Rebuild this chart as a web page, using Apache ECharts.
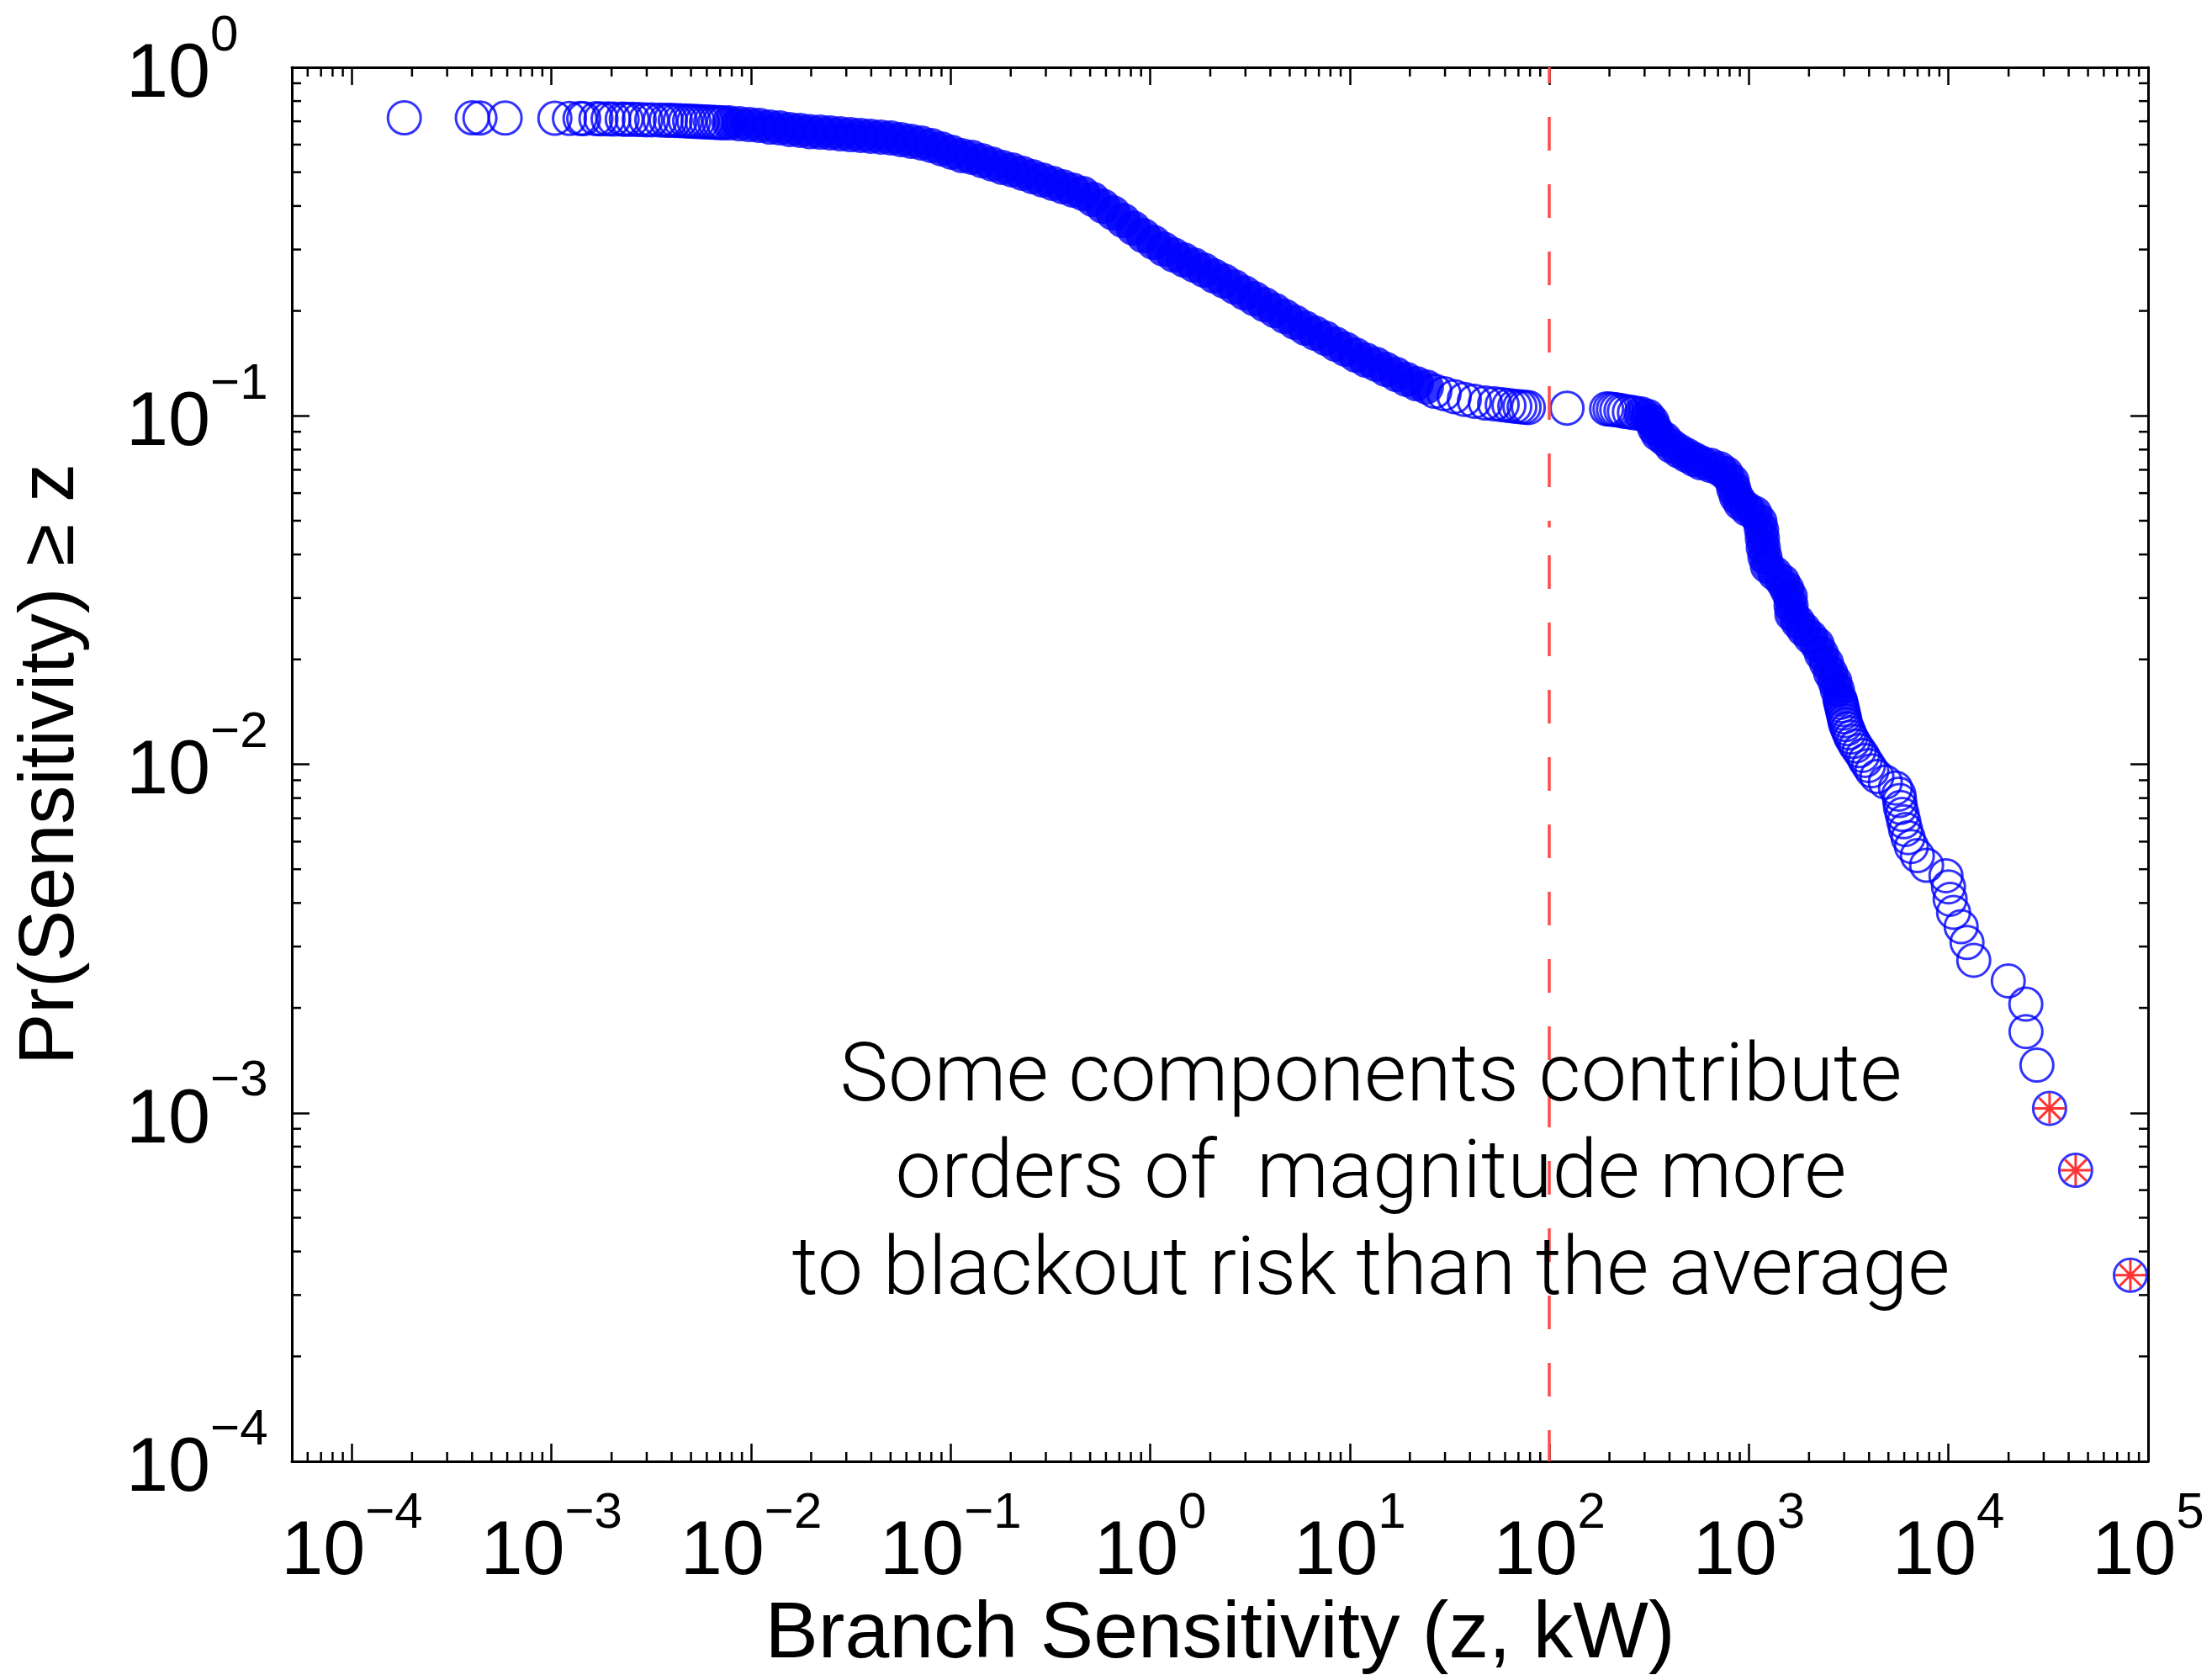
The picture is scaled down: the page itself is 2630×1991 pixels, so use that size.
<!DOCTYPE html>
<html>
<head>
<meta charset="utf-8">
<script src="https://cdn.jsdelivr.net/npm/echarts@6/dist/echarts.min.js"></script>
<style>html,body{margin:0;padding:0;background:#fff}#c{width:2630px;height:1991px}</style>
</head>
<body>
<div id="c"></div>
<script>
// ---------------- data ----------------
// Axis ranges
const X_MIN = 5e-5, X_MAX = 1e5;
const Y_MIN = 1e-4, Y_MAX = 1;
// Reference line (average sensitivity)
const REF_X = 100;

// Sparse head of the distribution (individual rings visible)
const headX = [1.83e-4, 4.01e-4, 4.38e-4, 5.86e-4, 1.04e-3, 1.23e-3, 1.39e-3, 1.45e-3, 1.67e-3, 1.77e-3, 1.92e-3, 2.05e-3, 2.26e-3, 2.37e-3, 2.54e-3, 2.75e-3, 2.97e-3, 3.18e-3, 3.50e-3, 3.75e-3, 3.94e-3, 4.17e-3, 4.42e-3, 4.69e-3, 4.92e-3, 5.17e-3, 5.42e-3, 5.69e-3, 5.98e-3, 6.27e-3, 6.59e-3, 6.92e-3, 7.26e-3];
const headY = [0.716, 0.716, 0.715, 0.715, 0.714, 0.713, 0.713, 0.712, 0.712, 0.711, 0.711, 0.710, 0.710, 0.709, 0.709, 0.708, 0.707, 0.707, 0.706, 0.705, 0.705, 0.704, 0.703, 0.702, 0.701, 0.700, 0.699, 0.698, 0.697, 0.696, 0.695, 0.694, 0.693];

// Saturated band (markers overlap into a solid band)
const band1X = [0.00777, 0.00873, 0.00981, 0.0110, 0.0124, 0.0139, 0.0156, 0.0176, 0.0197, 0.0222, 0.0249, 0.0280, 0.0315, 0.0354, 0.0397, 0.0447, 0.0502, 0.0564, 0.0633, 0.0712, 0.0800, 0.0899, 0.101, 0.1135, 0.1275, 0.1433, 0.161, 0.1809, 0.2032, 0.2284, 0.2566, 0.2883, 0.324, 0.364, 0.409, 0.4596, 0.5165, 0.5803, 0.652, 0.7328, 0.8234, 0.9252, 1.04, 1.168, 1.313, 1.475, 1.657, 1.862, 2.093, 2.351, 2.642, 2.969, 3.336, 3.748, 4.212, 4.732, 5.317, 5.975, 6.714, 7.544, 8.479, 9.526, 10.70, 12.03, 13.52, 15.18, 17.07, 19.18, 21.54, 24.21];
const band1Y = [0.6929, 0.6891, 0.6853, 0.6815, 0.6740, 0.6703, 0.6629, 0.6592, 0.6537, 0.6519, 0.6483, 0.6447, 0.6411, 0.6376, 0.6341, 0.6306, 0.6271, 0.6202, 0.6133, 0.6066, 0.5966, 0.5834, 0.5706, 0.5580, 0.5518, 0.5397, 0.5278, 0.5162, 0.5077, 0.4965, 0.4856, 0.4749, 0.4645, 0.4543, 0.4443, 0.4345, 0.4178, 0.3996, 0.3822, 0.3635, 0.3458, 0.3289, 0.3146, 0.3009, 0.2894, 0.2800, 0.2708, 0.2619, 0.2519, 0.2436, 0.2344, 0.2254, 0.2168, 0.2085, 0.2006, 0.1929, 0.1855, 0.1785, 0.1726, 0.1670, 0.1606, 0.1553, 0.1494, 0.1445, 0.1406, 0.1359, 0.1315, 0.1272, 0.1237, 0.1210];

// Plateau around 10^2 (individual rings visible)
const plateauX = [26.68, 29.69, 33.36, 37.48, 42.12, 47.78, 53.17, 58.03, 62.73, 67.14, 71.17, 74.72, 78.44, 122.6, 193.6, 201.3, 209.3, 217.6, 228.4, 237.4, 251.7, 266.8];
const plateauY = [0.1176, 0.1157, 0.1135, 0.1115, 0.1101, 0.1088, 0.1082, 0.1076, 0.1070, 0.1065, 0.1062, 0.1059, 0.1056, 0.1052, 0.1047, 0.1045, 0.1043, 0.1040, 0.1036, 0.1030, 0.1026, 0.1020];

// Second saturated band (steep fall)
const band2X = [288.3, 311.7, 327.2, 336.9, 350.2, 378.5, 409.0, 446.5, 487.3, 531.7, 574.8, 639.5, 711.7, 769.2, 823.4, 839.6, 864.4, 907.3, 980.8, 1070, 1135, 1157, 1168, 1180, 1203, 1238, 1352, 1475, 1548, 1610, 1626, 1641, 1757, 1881, 2032, 2197, 2307, 2445, 2566, 2694, 2773, 2856];
const band2Y = [0.1013, 0.09958, 0.09632, 0.09212, 0.08861, 0.08570, 0.08196, 0.07927, 0.07710, 0.07499, 0.07334, 0.07213, 0.07054, 0.06823, 0.06489, 0.06172, 0.05871, 0.05616, 0.05401, 0.05253, 0.04970, 0.04701, 0.04447, 0.04183, 0.03936, 0.03703, 0.03522, 0.03349, 0.03186, 0.03030, 0.02851, 0.02697, 0.02565, 0.02439, 0.02320, 0.02208, 0.02077, 0.01954, 0.01828, 0.01729, 0.01635, 0.01538];

// Sparse tail (largest components), last three are highlighted
const tailX = [2883, 2912, 2940, 2969, 2998, 3027, 3056, 3117, 3178, 3240, 3336, 3435, 3570, 3711, 3822, 3974, 4130, 4379, 4826, 5423, 5637, 5692, 5748, 5860, 5975, 6093, 6273, 6520, 6981, 7767, 9712, 10000, 10190, 10600, 11570, 12380, 13380, 19930, 24400, 24450, 27730, 32090, 43360, 81540];
const tailY = [0.01505, 0.01471, 0.01436, 0.01402, 0.01368, 0.01334, 0.01300, 0.01265, 0.01231, 0.01197, 0.01163, 0.01129, 0.01094, 0.01060, 0.01026, 0.00992, 0.00958, 0.00923, 0.00889, 0.00855, 0.00821, 0.00787, 0.00752, 0.00718, 0.00684, 0.00650, 0.00616, 0.00581, 0.00547, 0.00513, 0.00479, 0.00445, 0.00410, 0.00376, 0.00342, 0.00308, 0.00274, 0.00239, 0.00205, 0.00171, 0.00137, 0.00103, 0.000684, 0.000342];
const N_HIGHLIGHT = 3;

// Texts
const xTitle = 'Branch Sensitivity (z, kW)';
const yTitle = 'Pr(Sensitivity) \u2265 z';
const annotationLines = ['Some components contribute', 'orders of  magnitude more', 'to blackout risk than the average'];

// ---------------- styling ----------------
const FONT = "'Liberation Sans', Arial, Helvetica, sans-serif";
const BLUE = '#0000ff';
const RED = '#ff0000';
const DASH_RED = '#ff4d4d';
const DASH_BREAK_Y = 0.0478;
const MINOR_LEN = 11;

const pairs = (xs, ys) => xs.map((x, i) => [x, ys[i]]);
const starX = tailX.slice(-N_HIGHLIGHT), starY = tailY.slice(-N_HIGHLIGHT);

function powLabel(v) {
  const l = Math.log10(v);
  const e = Math.round(l);
  if (Math.abs(l - e) > 1e-6) return '';
  return '{b|10}{s|' + (e < 0 ? '\u2212' + (-e) : String(e)) + '}';
}
const richLbl = {
  b: { fontSize: 90, fontFamily: FONT, color: '#000', lineHeight: 122, verticalAlign: 'bottom' },
  s: { fontSize: 60, fontFamily: FONT, color: '#000', lineHeight: 60, verticalAlign: 'top' }
};

// minor tick values (2..9 x 10^d)
const xMinor = [], yMinor = [];
for (let d = -5; d <= 4; d++) for (let m = 2; m <= 9; m++) {
  const v = m * Math.pow(10, d);
  if (v > X_MIN * 1.0001 && v < X_MAX * 0.9999) xMinor.push(v);
}
for (let d = -4; d <= -1; d++) for (let m = 2; m <= 9; m++) {
  const v = m * Math.pow(10, d);
  if (v > Y_MIN && v < Y_MAX) yMinor.push(v);
}

const axisLineStyle = { color: '#000', width: 3 };
const tickStyle = { color: '#000', width: 2.5 };

function xAxisCfg(pos, showLabel) {
  return {
    type: 'log', logBase: 10, min: X_MIN, max: X_MAX, position: pos, splitNumber: 9,
    axisLine: { show: true, onZero: false, lineStyle: axisLineStyle },
    axisTick: { show: true, inside: true, length: 21, lineStyle: tickStyle },
    splitLine: { show: false },
    minorTick: { show: false },
    axisLabel: showLabel ? { show: true, margin: 32, formatter: powLabel, rich: richLbl, showMinLabel: true, showMaxLabel: true } : { show: false },
    name: showLabel ? xTitle : '',
    nameLocation: 'middle', nameGap: 121,
    nameTextStyle: { fontSize: 95, fontFamily: FONT, color: '#000' }
  };
}
function yAxisCfg(pos, showLabel) {
  return {
    type: 'log', logBase: 10, min: Y_MIN, max: Y_MAX, position: pos, splitNumber: 4,
    axisLine: { show: true, onZero: false, lineStyle: axisLineStyle },
    axisTick: { show: true, inside: true, length: 21, lineStyle: tickStyle },
    splitLine: { show: false },
    minorTick: { show: false },
    axisLabel: showLabel ? { show: true, margin: 197, align: 'left', padding: [0, 0, 12, 0], formatter: powLabel, rich: richLbl, showMinLabel: true, showMaxLabel: true } : { show: false },
    name: showLabel ? yTitle : '',
    nameLocation: 'middle', nameGap: 239, nameRotate: 90,
    nameTextStyle: { fontSize: 92, fontFamily: FONT, color: '#000' }
  };
}

const tickLine = (x1, y1, x2, y2) => ({ type: 'line', shape: { x1, y1, x2, y2 }, style: { stroke: '#000', lineWidth: 2.5 } });

const chart = echarts.init(document.getElementById('c'), null, { renderer: 'canvas' });
chart.setOption({
  animation: false,
  backgroundColor: '#fff',
  grid: { left: 347, top: 80, width: 2207, height: 1657, containLabel: false, outerBoundsMode: 'none' },
  xAxis: [xAxisCfg('bottom', true), xAxisCfg('top', false)],
  yAxis: [yAxisCfg('left', true), yAxisCfg('right', false)],
  series: [
    { // average-sensitivity reference line
      type: 'scatter', data: [], z: 1, silent: true,
      markLine: {
        silent: true, symbol: ['none', 'none'], animation: false, label: { show: false },
        lineStyle: { color: DASH_RED, width: 3.5, type: [40, 40] },
        emphasis: { disabled: true },
        data: [
          [{ coord: [REF_X, Y_MIN], lineStyle: { color: DASH_RED, width: 3.5, type: [40, 40], dashOffset: 3 } }, { coord: [REF_X, DASH_BREAK_Y] }],
          [{ coord: [REF_X, DASH_BREAK_Y], lineStyle: { color: DASH_RED, width: 3.5, type: [40, 40], dashOffset: 32 } }, { coord: [REF_X, Y_MAX] }]
        ]
      }
    },
    { // saturated bands (overlapping markers)
      type: 'scatter', name: 'band', z: 2, silent: true,
      data: pairs(band1X, band1Y).concat(pairs(band2X, band2Y)),
      symbol: 'circle', symbolSize: 42,
      itemStyle: { color: BLUE, borderWidth: 0 }
    },
    { // individually visible markers
      type: 'scatter', name: 'rings', z: 3, silent: true,
      data: pairs(headX, headY).concat(pairs(plateauX, plateauY), pairs(tailX, tailY)),
      symbol: 'circle', symbolSize: 39,
      itemStyle: { color: 'rgba(0,0,0,0)', borderColor: BLUE, borderWidth: 3 }
    },
    { // highlighted largest components
      type: 'scatter', name: 'highlight', z: 4, silent: true,
      data: pairs(starX, starY),
      symbol: 'path://M0,-10L0,10M-10,0L10,0M-7.07,-7.07L7.07,7.07M-7.07,7.07L7.07,-7.07',
      symbolSize: 36,
      itemStyle: { color: 'rgba(0,0,0,0)', borderColor: RED, borderWidth: 3 }
    },
    { // x minor ticks (bottom + top, inside)
      type: 'custom', z: 5, silent: true, clip: false,
      data: xMinor.map(v => [v, Y_MIN]),
      renderItem(params, api) {
        const v = api.value(0);
        const b = api.coord([v, Y_MIN]), t = api.coord([v, Y_MAX]);
        return { type: 'group', children: [tickLine(b[0], b[1], b[0], b[1] - MINOR_LEN), tickLine(t[0], t[1], t[0], t[1] + MINOR_LEN)] };
      }
    },
    { // y minor ticks (left + right, inside)
      type: 'custom', z: 5, silent: true, clip: false,
      data: yMinor.map(v => [X_MIN, v]),
      renderItem(params, api) {
        const v = api.value(1);
        const l = api.coord([X_MIN, v]), r = api.coord([X_MAX, v]);
        return { type: 'group', children: [tickLine(l[0], l[1], l[0] + MINOR_LEN, l[1]), tickLine(r[0], r[1], r[0] - MINOR_LEN, r[1])] };
      }
    }
  ],
  graphic: [{
    type: 'text', x: 1630, y: 1226, z: 100, silent: true,
    style: {
      text: annotationLines.join('\n'),
      fontFamily: "Roboto, 'Liberation Sans', sans-serif", fontWeight: 300, fontSize: 97,
      lineHeight: 115, fill: '#000', align: 'center', verticalAlign: 'top'
    }
  }]
});
</script>
</body>
</html>
